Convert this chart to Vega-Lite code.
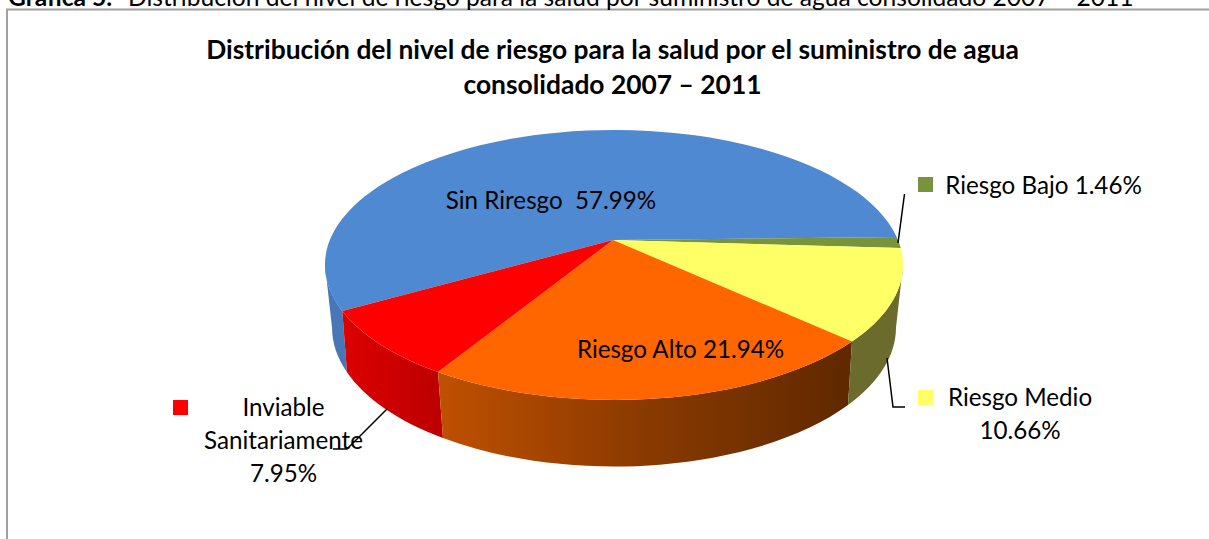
{
"$schema":"https://vega.github.io/schema/vega-lite/v6.json",
"width":1209,"height":539,"padding":0,"autosize":{"type":"none"},"background":"white",
"view":{"stroke":null},
"title":{"text":["Distribución del nivel de riesgo para la salud por el suministro de agua","consolidado 2007 – 2011"],"font":"Lato","fontSize":26.4,"fontWeight":"bold","color":"#000000","lineHeight":35,"anchor":"middle","dx":8,"offset":-114},
"data":{"values":[
{"nivel":"Sin Riesgo","porcentaje":57.99,"etiqueta":"Sin Riresgo\u00a0 57.99%"},
{"nivel":"Riesgo Bajo","porcentaje":1.46,"etiqueta":"Riesgo Bajo 1.46%"},
{"nivel":"Riesgo Medio","porcentaje":10.66,"etiqueta":"Riesgo Medio\n10.66%"},
{"nivel":"Riesgo Alto","porcentaje":21.94,"etiqueta":"Riesgo Alto 21.94%"},
{"nivel":"Inviable Sanitariamente","porcentaje":7.95,"etiqueta":"Inviable\nSanitariamente\n7.95%"}
]},
"layer":[
{"transform":[{"filter":"datum.nivel==='Sin Riesgo'"}],"mark":{"type":"point","filled":true,"opacity":1,"size":4,"fill":"#4877B8","shape":"M-279.5,-4.5A289,135,0,0,0,-262.2,41.5L-257.5,102.7A282,139,0,0,1,-272.5,58Z"},"encoding":{}},
{"transform":[{"filter":"datum.nivel==='Inviable Sanitariamente'"}],"mark":{"type":"point","filled":true,"opacity":1,"size":4,"fill":{"gradient":"linear","x1":0,"y1":0,"x2":1,"y2":0,"stops":[{"offset":0,"color":"#DC0000"},{"offset":1,"color":"#BC0000"}]},"shape":"M-166.5,102.6A289,135,0,0,1,-262.2,41.5L-257.5,102.7A282,139,0,0,0,-161.5,168.5Z"},"encoding":{}},
{"transform":[{"filter":"datum.nivel==='Riesgo Alto'"}],"mark":{"type":"point","filled":true,"opacity":1,"size":4,"fill":{"gradient":"linear","x1":0,"y1":0,"x2":1,"y2":0,"stops":[{"offset":0,"color":"#BF5000"},{"offset":0.5,"color":"#8A3A00"},{"offset":1,"color":"#5F2800"}]},"shape":"M247.5,72.1A289,135,0,0,1,-166.5,102.6L-161.5,168.5A282,139,0,0,0,243.5,135.6Z"},"encoding":{}},
{"transform":[{"filter":"datum.nivel==='Riesgo Medio'"}],"mark":{"type":"point","filled":true,"opacity":1,"size":4,"fill":"#6B6B2D","shape":"M247.5,72.1A289,135,0,0,0,298.5,-4.5L291.5,58A282,139,0,0,1,243.5,135.6Z"},"encoding":{}},
{"mark":{"type":"point","filled":true,"opacity":1,"size":4},
 "encoding":{
  "shape":{"field":"nivel","type":"nominal","legend":null,"scale":{"domain":["Sin Riesgo","Riesgo Bajo","Riesgo Medio","Riesgo Alto","Inviable Sanitariamente"],"range":[
   "M8.5,-29.5L-262.2,41.5A289,135,0,1,1,292.2,-32.5Z",
   "M8.5,-29.5L292.2,-32.5A289,135,0,0,1,296.2,-21.5Z",
   "M8.5,-29.5L296.2,-21.5A289,135,0,0,1,247.5,72.1Z",
   "M8.5,-29.5L247.5,72.1A289,135,0,0,1,-166.5,102.6Z",
   "M8.5,-29.5L-166.5,102.6A289,135,0,0,1,-262.2,41.5Z"]}},
  "color":{"field":"nivel","type":"nominal","legend":null,"scale":{"domain":["Sin Riesgo","Riesgo Bajo","Riesgo Medio","Riesgo Alto","Inviable Sanitariamente"],"range":["#4F89D2","#77933C","#FFFF66","#FF6600","#FF0000"]}}
 }},
{"transform":[{"filter":"datum.nivel!=='Sin Riesgo' && datum.nivel!=='Riesgo Alto'"}],"mark":{"type":"point","filled":true,"opacity":1,"size":4},
 "encoding":{
  "shape":{"field":"nivel","type":"nominal","legend":null,"scale":{"domain":["Riesgo Bajo","Riesgo Medio","Inviable Sanitariamente"],"range":[
   "M313.5,-92.5H328.5V-77.5H313.5Z",
   "M313.5,120.5H328.5V135.5H313.5Z",
   "M-431.5,130.5H-416.5V145.5H-431.5Z"]}},
  "color":{"field":"nivel","type":"nominal","legend":null}
 }},
{"transform":[{"filter":"datum.nivel==='Sin Riesgo'"}],"mark":{"type":"text","font":"Lato","fontSize":24.2,"color":"#000000","align":"center","baseline":"middle","lineBreak":"\n","lineHeight":33,"dx":-53.5,"dy":-68},"encoding":{"text":{"field":"etiqueta"}}},
{"transform":[{"filter":"datum.nivel==='Riesgo Alto'"}],"mark":{"type":"text","font":"Lato","fontSize":24.2,"color":"#000000","align":"center","baseline":"middle","lineBreak":"\n","lineHeight":33,"dx":76,"dy":81},"encoding":{"text":{"field":"etiqueta"}}},
{"transform":[{"filter":"datum.nivel==='Riesgo Bajo'"}],"mark":{"type":"text","font":"Lato","fontSize":24.2,"color":"#000000","align":"center","baseline":"middle","lineBreak":"\n","lineHeight":33,"dx":439,"dy":-82.5},"encoding":{"text":{"field":"etiqueta"}}},
{"transform":[{"filter":"datum.nivel==='Riesgo Medio'"}],"mark":{"type":"text","font":"Lato","fontSize":24.2,"color":"#000000","align":"center","baseline":"middle","lineBreak":"\n","lineHeight":33,"dx":415.5,"dy":129},"encoding":{"text":{"field":"etiqueta"}}},
{"transform":[{"filter":"datum.nivel==='Inviable Sanitariamente'"}],"mark":{"type":"text","font":"Lato","fontSize":24.2,"color":"#000000","align":"center","baseline":"middle","lineBreak":"\n","lineHeight":33,"dx":-321,"dy":139},"encoding":{"text":{"field":"etiqueta"}}},
{"transform":[{"filter":"datum.nivel==='Riesgo Bajo' || datum.nivel==='Riesgo Medio' || datum.nivel==='Inviable Sanitariamente'"}],"mark":{"type":"point","filled":false,"fillOpacity":0,"opacity":1,"size":4,"stroke":"#000000","strokeWidth":1.5},
 "encoding":{"shape":{"field":"nivel","type":"nominal","legend":null,"scale":{"domain":["Riesgo Bajo","Riesgo Medio","Inviable Sanitariamente"],"range":[
  "M300,-75.5L293.5,-26.5",
  "M282.5,88.5L288.5,137.5L300.5,137.5",
  "M-217.5,139.5L-257.5,179.5L-271.5,179.5"]}}}},
{"data":{"values":[{"elemento":"marco"}]},"mark":{"type":"point","filled":false,"fillOpacity":0,"opacity":1,"size":4,"stroke":"#A0A0A0","strokeWidth":2,"shape":"M-597.5,269.5V-260H604.5"},"encoding":{}},
{"data":{"values":[{"encabezado":"Gráfica 5."}]},"mark":{"type":"text","font":"Lato","fontSize":24.6,"fontWeight":"bold","color":"#000000","align":"left","baseline":"alphabetic","dx":-596.5,"dy":-264},"encoding":{"text":{"field":"encabezado"}}},
{"data":{"values":[{"encabezado":"Distribución del nivel de riesgo para la salud por suministro de agua consolidado 2007 – 2011"}]},"mark":{"type":"text","font":"Lato","fontSize":24.6,"color":"#000000","align":"left","baseline":"alphabetic","dx":-476.5,"dy":-264},"encoding":{"text":{"field":"encabezado"}}}
],
"resolve":{"scale":{"shape":"independent"}}
}
